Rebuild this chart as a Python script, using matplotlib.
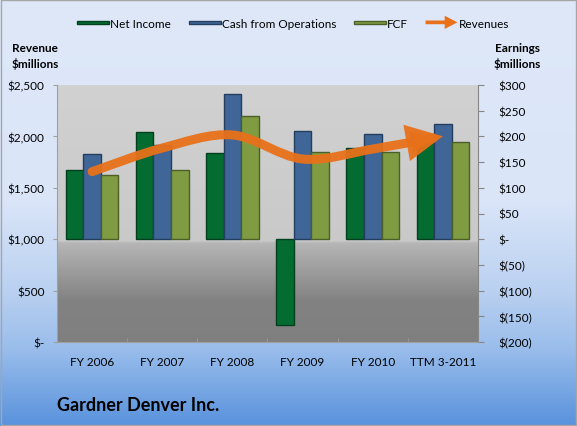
import numpy as np
import matplotlib.pyplot as plt
from matplotlib.path import Path
from matplotlib.patches import FancyArrowPatch, Rectangle, FancyArrow
from matplotlib.legend_handler import HandlerPatch
from matplotlib.ticker import FixedLocator

plt.rcParams['font.family'] = ['Lato', 'DejaVu Sans']

# Data ($ millions)
categories = ['FY 2006', 'FY 2007', 'FY 2008', 'FY 2009', 'FY 2010', 'TTM 3-2011']
net_income = [134, 208, 168, -167, 178, 192]
cash_from_ops = [166, 183, 282, 211, 204, 224]
fcf = [125, 134, 239, 169, 169, 189]
revenues = [1657, 1887, 2014, 1780, 1877, 2001]

left_ticks = [0, 500, 1000, 1500, 2000, 2500]
left_labels = ['$-', '$500', '$1,000', '$1,500', '$2,000', '$2,500']
right_ticks = [-200, -150, -100, -50, 0, 50, 100, 150, 200, 250, 300]
right_labels = ['$(200)', '$(150)', '$(100)', '$(50)', '$-', '$50', '$100',
                '$150', '$200', '$250', '$300']

c_ni, c_cfo, c_fcf, c_rev = '#046B31', '#3F6697', '#7F9C42', '#E8711A'
e_ni, e_cfo, e_fcf = '#02401D', '#243E60', '#4C5F26'

W, H = 577, 427
fig = plt.figure(figsize=(W / 100, H / 100), dpi=100)

# figure background gradient (light blue -> blue)
bg = fig.add_axes([0, 0, 1, 1], zorder=-10)
stops_y = [0, 200, 290, 350, 427]
stops_c = [(0.871, 0.910, 0.976), (0.855, 0.898, 0.973), (0.733, 0.820, 0.945),
           (0.600, 0.740, 0.922), (0.345, 0.570, 0.863)]
yy = np.arange(H)
grad = np.stack([np.interp(yy, stops_y, [c[i] for c in stops_c]) for i in range(3)], axis=-1)
bg.imshow(grad[:, None, :], aspect='auto', extent=[0, 1, 0, 1])
bg.set_axis_off()
fig.add_artist(Rectangle((0.001, 0.002), 0.997, 0.995, transform=fig.transFigure,
                         fill=False, edgecolor='#A6A6A6', lw=1))

# plot area
left, right, top, bottom = 57, 478, 86, 343
ax = fig.add_axes([left / W, 1 - bottom / H, (right - left) / W, (bottom - top) / H])
ax.patch.set_visible(False)
ax2 = ax.twinx()

# plot area gray gradient
py = [0, 155, 158, 215, 257]
pc = [0.82, 0.79, 0.71, 0.51, 0.50]
pg = np.interp(np.arange(bottom - top), py, pc)
ax.imshow(np.repeat(pg[:, None, None], 3, axis=2), aspect='auto',
          extent=[0, 1, 0, 1], transform=ax.transAxes, zorder=0.1)

x = np.arange(len(categories))
bw = 0.25
ax.bar(x - bw, net_income, bw, color=c_ni, edgecolor=e_ni, lw=1, zorder=2)
ax.bar(x, cash_from_ops, bw, color=c_cfo, edgecolor=e_cfo, lw=1, zorder=2)
ax.bar(x + bw, fcf, bw, color=c_fcf, edgecolor=e_fcf, lw=1, zorder=2)

ax.set_xlim(-0.5, len(categories) - 0.5)
ax.set_ylim(-200, 300)
ax.yaxis.tick_right()
ax.set_yticks(right_ticks)
ax.set_yticklabels(right_labels)
ax.yaxis.set_minor_locator(FixedLocator([-100, 0, 100, 200, 300]))
ax.grid(True, which='minor', axis='y', color='#868686', lw=1, zorder=0.5)
ax.tick_params(axis='y', which='minor', length=0)
ax.tick_params(axis='y', which='major', length=4, color='#868686', labelsize=8.5,
               pad=11, labelcolor='black')
ax.set_xticks(x)
ax.set_xticklabels(categories)
ax.xaxis.set_minor_locator(FixedLocator(np.arange(len(categories) + 1) - 0.5))
ax.tick_params(axis='x', which='major', length=0, labelsize=8.5, pad=10)
ax.tick_params(axis='x', which='minor', length=3, direction='in', color='#9A9A9A')
for s in ['top', 'left']:
    ax.spines[s].set_visible(False)
ax.spines['right'].set_color('#868686')
ax.spines['bottom'].set_color('#A0A0A0')

# revenue line on left axis
ax2.set_ylim(0, 2500)
ax2.yaxis.tick_left()
ax2.set_yticks(left_ticks)
ax2.set_yticklabels(left_labels)
ax2.tick_params(axis='y', length=3, color='#A0A0A0', labelsize=8.5, pad=6)
for s in ['top', 'right', 'bottom']:
    ax2.spines[s].set_visible(False)
ax2.spines['left'].set_color('#A0A0A0')

# smooth curve through revenue points (Catmull-Rom -> cubic bezier)
pts = np.column_stack([x, revenues]).astype(float)
verts = [pts[0]]
codes = [Path.MOVETO]
n = len(pts)
for i in range(n - 1):
    p0 = pts[i - 1] if i > 0 else pts[i]
    p1, p2 = pts[i], pts[i + 1]
    p3 = pts[i + 2] if i + 2 < n else pts[i + 1]
    verts += [p1 + (p2 - p0) / 6, p2 - (p3 - p1) / 6, p2]
    codes += [Path.CURVE4] * 3
arrow = FancyArrowPatch(path=Path(verts, codes),
                        arrowstyle='-|>,head_length=1.6,head_width=0.8',
                        mutation_scale=10, lw=6.5, color=c_rev, alpha=0.95,
                        capstyle='round', joinstyle='miter', zorder=3)
ax2.add_patch(arrow)

# axis titles
fig.text(35 / W, 1 - 57 / H, 'Revenue\n$millions', ha='center', va='center',
         fontsize=8.5, fontweight='bold', linespacing=1.4)
fig.text(517 / W, 1 - 57 / H, 'Earnings\n$millions', ha='center', va='center',
         fontsize=8.5, fontweight='bold', linespacing=1.4)
fig.text(57 / W, 1 - 406 / H, 'Gardner Denver Inc.', ha='left', va='center',
         fontsize=13, fontweight='bold')


# legend
def thin_rect(legend, orig_handle, xdescent, ydescent, width, height, fontsize):
    return Rectangle((-xdescent, -ydescent + height * 0.3), width, height * 0.4)


def arrow_handle(legend, orig_handle, xdescent, ydescent, width, height, fontsize):
    return FancyArrow(-xdescent, -ydescent + height / 2, width, 0, width=height * 0.45,
                      head_width=height * 1.6, head_length=width * 0.4,
                      length_includes_head=True)


h_ni = Rectangle((0, 0), 1, 1, facecolor=c_ni, edgecolor=e_ni, lw=1)
h_cfo = Rectangle((0, 0), 1, 1, facecolor=c_cfo, edgecolor=e_cfo, lw=1)
h_fcf = Rectangle((0, 0), 1, 1, facecolor=c_fcf, edgecolor=e_fcf, lw=1)
h_rev = Rectangle((0, 0), 1, 1, facecolor=c_rev, edgecolor='none')
fig.legend([h_ni, h_cfo, h_fcf, h_rev], ['Net Income', 'Cash from Operations', 'FCF', 'Revenues'],
           handler_map={h_ni: HandlerPatch(patch_func=thin_rect),
                        h_cfo: HandlerPatch(patch_func=thin_rect),
                        h_fcf: HandlerPatch(patch_func=thin_rect),
                        h_rev: HandlerPatch(patch_func=arrow_handle)},
           loc='center', bbox_to_anchor=(293 / W, 1 - 24 / H), ncol=4, frameon=False,
           fontsize=8.5, handlelength=2.7, handletextpad=0.1, columnspacing=1.5)

fig.savefig('out.png', dpi=100)
